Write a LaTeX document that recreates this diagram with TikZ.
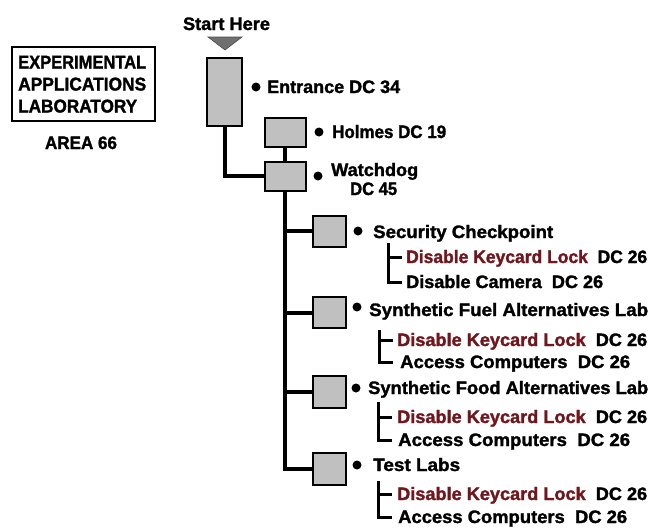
\documentclass[tikz,border=0pt]{standalone}
\usepackage{fontspec}
\setmainfont{Liberation Sans}[BoldFeatures={FakeBold=1.6}]
\usepackage{graphicx}
\definecolor{boxgray}{RGB}{192,192,192}
\definecolor{trigray}{RGB}{112,112,112}
\definecolor{keyred}{RGB}{112,22,28}
\newcommand\tw[2]{\resizebox{#1pt}{\height}{#2}}
\begin{document}
\begin{tikzpicture}[x=1pt,y=-1pt,
  room/.style={draw=black,line width=2pt,fill=boxgray,rectangle,inner sep=0pt},
  conn/.style={line width=4pt},
  brk/.style={line width=3pt},
  bul/.style={circle,fill=black,inner sep=0pt,minimum size=9pt},
  lbl/.style={font=\bfseries\fontsize{18}{18}\selectfont,inner sep=0pt,anchor=base west},
  big/.style={font=\bfseries\fontsize{18.5}{18.5}\selectfont,inner sep=0pt,anchor=base west}]
\useasboundingbox (0,0) rectangle (657,531);
% title block
\node[draw=black,line width=1.5pt,minimum width=143pt,minimum height=74pt,inner sep=0pt] (title) at (83.5,84) {};
\node[big] (t1) at (18,68.5) {\tw{128}{EXPERIMENTAL}};
\node[big] (t2) at (18,90.5) {\tw{128}{APPLICATIONS}};
\node[big] (t3) at (18,112.5) {\tw{119}{LABORATORY}};
\node[lbl,anchor=base] (area) at (81,149) {\tw{72}{AREA 66}};
% start
\node[lbl,anchor=base] (start) at (226.5,30) {\tw{87}{Start Here}};
\draw[fill=trigray,draw=black!70,line width=0.6pt] (208,37) -- (242,37) -- (225,50) -- cycle;
% rooms
\node[room,minimum width=35pt,minimum height=68pt] (entr) at (224.5,92) {};
\node[room,minimum width=41pt,minimum height=29pt] (holm) at (285,132) {};
\node[room,minimum width=41pt,minimum height=29pt] (watch) at (285,176) {};
\node[room,minimum width=33pt,minimum height=31pt] (sec) at (329,231) {};
\node[room,minimum width=33pt,minimum height=31pt] (fuel) at (329.5,312.5) {};
\node[room,minimum width=33pt,minimum height=32pt] (food) at (329,392) {};
\node[room,minimum width=33pt,minimum height=32pt] (test) at (329,469) {};
% connectors
\draw[conn] (entr.south) |- (watch.west);
\draw[conn] (holm.south) -- (watch.north);
\draw[conn] (watch.south) |- (test.west);
\draw[conn] (sec.west) -- (sec.west -| watch.south);
\draw[conn] (fuel.west) -- (fuel.west -| watch.south);
\draw[conn] (food.west) -- (food.west -| watch.south);
% bullets
\node[bul] (b0) at (256,87) {};
\node[bul] (b1) at (319,132) {};
\node[bul] (b2) at (318,176) {};
\node[bul] (b3) at (358,231) {};
\node[bul] (b4) at (357,307) {};
\node[bul] (b5) at (356,388) {};
\node[bul] (b6) at (357,465) {};
% labels
\node[lbl] (l0) at (267,93) {\tw{133}{Entrance DC 34}};
\node[lbl] (l1) at (332,138) {\tw{114}{Holmes DC 19}};
\node[lbl] (l2) at (331,176) {\tw{87}{Watchdog}};
\node[lbl] (l2b) at (350,195) {\tw{47}{DC 45}};
\node[lbl] (l3) at (373,238) {\tw{180}{Security Checkpoint}};
\node[lbl] (l3a) at (406,263) {\tw{241}{\textcolor{keyred}{Disable Keycard Lock}\ \ DC 26}};
\node[lbl] (l3b) at (406,288) {\tw{197}{Disable Camera\ \ DC 26}};
\node[lbl] (l4) at (369,316) {\tw{279}{Synthetic Fuel Alternatives Lab}};
\node[lbl] (l4a) at (397,346) {\tw{250}{\textcolor{keyred}{Disable Keycard Lock}\ \ DC 26}};
\node[lbl] (l4b) at (400,368) {\tw{230}{Access Computers\ \ DC 26}};
\node[lbl] (l5) at (368,394) {\tw{280}{Synthetic Food Alternatives Lab}};
\node[lbl] (l5a) at (397,423) {\tw{250}{\textcolor{keyred}{Disable Keycard Lock}\ \ DC 26}};
\node[lbl] (l5b) at (398,446) {\tw{232}{Access Computers\ \ DC 26}};
\node[lbl] (l6) at (373,471) {\tw{87}{Test Labs}};
\node[lbl] (l6a) at (397,500) {\tw{250}{\textcolor{keyred}{Disable Keycard Lock}\ \ DC 26}};
\node[lbl] (l6b) at (398,523) {\tw{229}{Access Computers\ \ DC 26}};
% brackets
\coordinate (s3t) at (388,243); \coordinate (s3m) at (402,257); \coordinate (s3b) at (402,282);
\draw[brk] (s3t) |- (s3b); \draw[brk] (s3m -| s3t) -- (s3m);
\coordinate (s4t) at (379,330); \coordinate (s4m) at (393,340); \coordinate (s4b) at (393,362);
\draw[brk] (s4t) |- (s4b); \draw[brk] (s4m -| s4t) -- (s4m);
\coordinate (s5t) at (378,402); \coordinate (s5m) at (392,417); \coordinate (s5b) at (392,440);
\draw[brk] (s5t) |- (s5b); \draw[brk] (s5m -| s5t) -- (s5m);
\coordinate (s6t) at (378,481); \coordinate (s6m) at (392,494); \coordinate (s6b) at (392,517);
\draw[brk] (s6t) |- (s6b); \draw[brk] (s6m -| s6t) -- (s6m);
\end{tikzpicture}
\end{document}
